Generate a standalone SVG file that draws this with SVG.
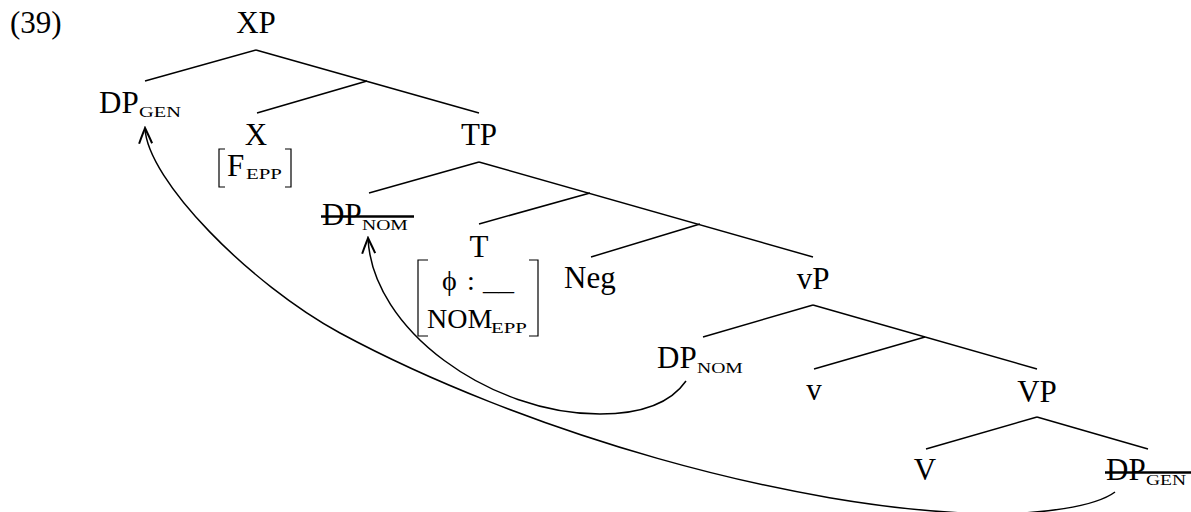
<svg xmlns="http://www.w3.org/2000/svg" width="1191" height="512" viewBox="0 0 1191 512">
<defs>
<style>
text{font-family:"Liberation Serif","Times New Roman",serif;fill:#000;}
.n{font-size:31px;}
.m{font-size:28px;}
.s{font-size:15px;}
.e{fill:none;stroke:#000;stroke-width:1.5;stroke-linecap:butt;}
.mv{fill:none;stroke:#000;stroke-width:1.5;}
.br{fill:none;stroke:#000;stroke-width:1.2;}
.st{stroke:#000;stroke-width:2.6;}
</style>
<marker id="ah" markerUnits="userSpaceOnUse" viewBox="-17 -8 19 16" refX="0" refY="0" markerWidth="19" markerHeight="16" orient="auto">
<path d="M-15.5,-6.5 C-9,-4 -3,-1.2 0,0 C-3,1.2 -9,4 -15.5,6.5" fill="none" stroke="#000" stroke-width="2" stroke-linejoin="miter"/>
</marker>
</defs>
<rect width="1191" height="512" fill="#fff"/>
<text id="ex" class="n" x="10" y="33">(39)</text>
<g id="connectors">
<line class="e" x1="256" y1="50" x2="145" y2="81"/>
<line class="e" x1="256" y1="50" x2="479" y2="113"/>
<line class="e" x1="367" y1="81" x2="257" y2="113"/>
<line class="e" x1="479" y1="162" x2="369" y2="193"/>
<line class="e" x1="479" y1="162" x2="813" y2="257"/>
<line class="e" x1="590" y1="193" x2="479" y2="224"/>
<line class="e" x1="700" y1="224" x2="591" y2="257"/>
<line class="e" x1="813" y1="305" x2="703" y2="337"/>
<line class="e" x1="813" y1="305" x2="1037" y2="369"/>
<line class="e" x1="925" y1="337" x2="814" y2="369"/>
<line class="e" x1="1037" y1="417" x2="926" y2="449"/>
<line class="e" x1="1037" y1="417" x2="1148" y2="449"/>
<path class="mv" marker-end="url(#ah)" d="M686,381 C670,404 640,414 600,414 C490,414 372,330 368,238"/>
<path class="mv" marker-end="url(#ah)" d="M1115,492 C1095,507 1040,514 990,514 C790,510 520,430 340,333 C250,284 147,180 145,128"/>
</g>
<g id="XP"><text class="n" x="256" y="33" text-anchor="middle">XP</text></g>
<g id="DP_GEN"><text class="n" x="99" y="113">DP</text><text class="s" transform="translate(139,117) scale(1.36,1)">GEN</text></g>
<g id="X"><text class="n" x="256" y="145" text-anchor="middle">X</text>
<path class="br" d="M225,149 H219 V187 H225"/><path class="br" d="M285,149 H291 V187 H285"/>
<text class="n" x="227" y="176">F</text><text class="s" transform="translate(246,179) scale(1.39,1)">EPP</text></g>
<g id="TP"><text class="n" x="479" y="145" text-anchor="middle">TP</text></g>
<g id="DP_NOM_trace"><text class="n" x="322" y="225">DP</text><text class="s" transform="translate(362,230) scale(1.31,1)">NOM</text>
<line class="st" x1="321" y1="216.5" x2="414" y2="216.5"/></g>
<g id="T"><text class="n" x="479" y="257" text-anchor="middle">T</text>
<path class="br" d="M428,260 H418 V336 H428"/><path class="br" d="M529,260 H538 V336 H529"/>
<text class="m" x="442" y="290">ϕ</text><text class="m" x="467" y="290">:</text><text class="m" x="483" y="290" textLength="31" lengthAdjust="spacingAndGlyphs">__</text>
<text class="m" x="427" y="328">NOM</text><text class="s" transform="translate(491,333) scale(1.39,1)">EPP</text></g>
<g id="Neg"><text class="n" x="564" y="288">Neg</text></g>
<g id="vP"><text class="n" x="813" y="289" text-anchor="middle">vP</text></g>
<g id="DP_NOM"><text class="n" x="657" y="368">DP</text><text class="s" transform="translate(697,373) scale(1.31,1)">NOM</text></g>
<g id="v"><text class="n" x="814" y="400" text-anchor="middle">v</text></g>
<g id="VP"><text class="n" x="1037" y="402" text-anchor="middle">VP</text></g>
<g id="V"><text class="n" x="925" y="480" text-anchor="middle">V</text></g>
<g id="DP_GEN_trace"><text class="n" x="1106" y="480">DP</text><text class="s" transform="translate(1146,485) scale(1.3,1)">GEN</text>
<line class="st" x1="1105" y1="472.5" x2="1191" y2="472.5"/></g>
</svg>
